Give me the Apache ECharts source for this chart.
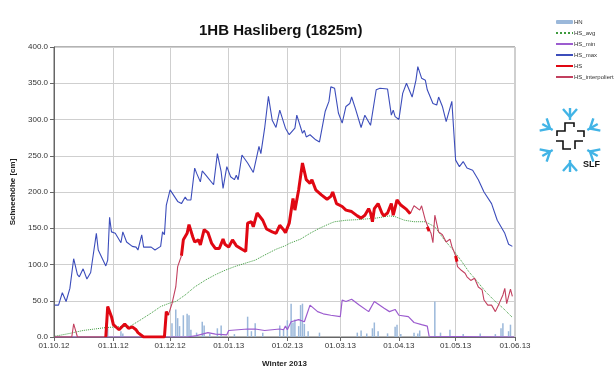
<!DOCTYPE html>
<html>
<head>
<meta charset="utf-8">
<script src="https://cdn.jsdelivr.net/npm/echarts@6/dist/echarts.min.js"></script>
<style>
  html, body { margin: 0; padding: 0; background: #fff; }
  #chart { width: 616px; height: 376px; }
</style>
</head>
<body>
<div id="chart"></div>
<script>
// day offsets from 01.10.2012, values in cm
const seriesNames = ["HN", "HS_avg", "HS_min", "HS_max", "HS", "HS_interpoliert"];
const yTicks = [0, 50, 100, 150, 200, 250, 300, 350, 400];

const hn = [[27,19],[28,12],[35,8],[36,5],[62,19],[64,38],[65,26],[66,15],[68,30],[70,32],[71,30],[72,10],
  [75,6],[78,21],[79,16],[82,5],[86,12],[88,16],[95,4],[102,28],[104,8],[106,19],[110,6],[119,16],[121,10],
  [123,23],[125,46],[126,20],[127,24],[129,15],[130,44],[131,46],[132,18],[134,8],[140,6],[160,6],[162,9],
  [165,5],[168,12],[169,20],[171,8],[176,5],[180,14],[181,17],[183,4],[190,6],[192,5],[193,9],[201,49],
  [204,6],[209,10],[216,4],[225,5],[233,4],[236,12],[237,19],[240,8],[241,17]];

const hsAvg = [[0,1],[8,5],[15,9],[21,11],[27,13],[33,14],[40,15],[45,23],[51,33],[56,42],[61,47],[64,49],
  [69,58],[74,69],[80,79],[85,86],[90,92],[95,97],[101,102],[106,106],[111,113],[117,121],[122,126],[124,129],
  [130,135],[135,143],[140,150],[146,157],[148,159],[154,161],[161,162],[170,164],[177,167],[180,166],
  [185,161],[190,159],[196,159],[201,152],[206,134],[211,119],[215,105],[219,90],[223,78],[228,62],
  [233,49],[237,40],[242,27]];

const hsMin = [[0,0],[70,0],[75,2],[81,6],[85,4],[91,3],[92,9],[102,11],[106,11],[111,9],[119,11],[121,10],
  [122,15],[123,10],[125,21],[129,24],[132,21],[135,44],[139,35],[142,32],[146,30],[151,28],[152,51],
  [154,49],[157,52],[161,44],[166,35],[169,49],[174,40],[177,35],[180,38],[182,30],[187,28],[190,20],
  [194,17],[197,15],[198,1],[199,0],[243,0]];

const hsMax = [[0,44],[2,44],[4,61],[6,49],[8,67],[10,108],[12,86],[13,83],[15,94],[17,80],[19,89],[20,89],
  [22,143],[23,120],[27,98],[28,106],[29,165],[30,145],[32,143],[35,130],[36,145],[38,131],[41,125],[43,124],
  [44,120],[46,141],[47,124],[51,124],[53,120],[56,125],[57,145],[58,141],[59,182],[61,203],[65,187],[67,184],
  [69,193],[70,189],[72,189],[74,233],[75,226],[77,214],[78,229],[80,223],[84,210],[86,253],[88,228],[89,205],
  [91,235],[93,221],[95,217],[96,223],[97,217],[99,251],[102,240],[105,227],[107,251],[108,263],[109,253],
  [111,288],[113,332],[115,299],[117,289],[119,313],[122,288],[124,279],[127,288],[128,306],[131,281],
  [132,285],[133,276],[135,279],[138,272],[140,269],[143,311],[145,325],[146,345],[148,343],[150,309],
  [152,295],[154,318],[156,322],[157,331],[159,315],[160,313],[162,289],[164,306],[167,292],[170,341],
  [172,343],[176,342],[178,306],[179,313],[180,304],[182,300],[184,336],[186,350],[189,331],[191,354],
  [192,373],[194,357],[196,354],[197,341],[200,322],[202,320],[203,331],[205,318],[207,297],[210,325],
  [211,327],[212,244],[214,235],[216,242],[218,233],[221,230],[224,217],[227,200],[231,184],[234,161],
  [238,143],[240,128],[242,125]];

const hs = [[27,0],[28,42],[30,28],[31,17],[34,10],[35,12],[37,18],[39,12],
  [41,14],[43,10],[44,6],[47,0],[58,0],[59,35],[60,30],[61,null],
  [67,112],[68,134],[69,135],[70,143],[71,155],[73,138],[74,131],[76,134],[77,127],[79,148],[81,144],
  [83,129],[85,122],[87,122],[89,135],[90,128],[92,124],[94,134],[96,126],[99,121],[101,118],[102,157],
  [104,159],[105,152],[107,171],[110,161],[112,149],[115,145],[117,143],[119,154],[121,148],[122,144],
  [124,157],[126,191],[127,175],[129,203],[131,240],[133,217],[135,212],[136,217],[138,203],[141,196],
  [144,190],[146,194],[147,200],[149,184],[152,180],[154,175],[157,173],[160,167],[162,164],[164,168],
  [166,177],[167,171],[168,159],[169,177],[171,184],[173,171],[174,167],[176,171],[178,184],[179,168],
  [181,189],[183,182],[186,176],[188,170],[189,null],
  [197,152],[198,146],[198.5,null],[212,112],[212.7,104]];

const hsInterp = [[0,0],[9,0],[10,18],[12,0],[27,0],[28,42],[30,28],[31,17],[34,10],[37,18],[39,12],
  [41,14],[44,6],[47,0],[58,0],[59,35],[60,30],[62,46],[64,69],[65,97],[67,112],[68,null],
  [188,170],[190,181],[193,175],[194,181],[196,161],[198,148],[199,143],[200,130],[201,168],[203,145],
  [205,141],[207,131],[209,135],[210,125],[212,112],[213,97],[215,92],[217,88],[218,83],[220,78],[222,81],
  [224,69],[226,65],[227,51],[229,44],[231,44],[233,35],[235,46],[237,58],[238,67],[239,46],[241,66],
  [242,56]];

const DAY = 86400000;
const T0 = Date.UTC(2012, 9, 1);
const T1 = Date.UTC(2013, 5, 1);
const toTime = arr => arr.map(p => [T0 + p[0] * DAY, p[1]]);
const FONT = "Liberation Sans, Arial, sans-serif";
const pad2 = n => (n < 10 ? "0" : "") + n;
const dateLabel = v => {
  const d = new Date(Math.round(v / DAY) * DAY);
  return pad2(d.getUTCDate()) + "." + pad2(d.getUTCMonth() + 1) + "." + pad2(d.getUTCFullYear() % 100);
};

const lineSeries = (name, data, color, width, type, z) => ({
  name: name,
  type: "line",
  data: toTime(data),
  showSymbol: false,
  symbol: "none",
  connectNulls: false,
  z: z,
  lineStyle: { color: color, width: width, type: type || "solid" },
  itemStyle: { color: color },
  animation: false
});

// SLF logo
const logo = [];
const cx = 570, cy = 140;
[90, 30, -30, -90, -150, 150].forEach(a => {
  const r = a * Math.PI / 180;
  const ux = Math.cos(r), uy = -Math.sin(r);
  const px = -uy, py = ux;
  const p = (d, s) => [cx + ux * d + px * s, cy + uy * d + py * s];
  logo.push({ type: "polyline", shape: { points: [p(20, 0), p(32, 0)] },
    style: { stroke: "#42b4e6", lineWidth: 2.4, fill: null } });
  logo.push({ type: "polyline", shape: { points: [p(31, -7), p(23, 0), p(31, 7)] },
    style: { stroke: "#42b4e6", lineWidth: 2.4, fill: null } });
});
[
  [[557, 136], [557, 131], [565, 131], [565, 123], [574, 123], [574, 127]],
  [[577, 131], [584, 131], [584, 137]],
  [[556, 141], [563, 141], [563, 149], [571, 149]],
  [[575, 149], [575, 141], [583, 141]]
].forEach(pts => logo.push({ type: "polyline", shape: { points: pts },
  style: { stroke: "#111", lineWidth: 1.6, fill: null } }));
logo.push({ type: "text", left: 583, top: 160,
  style: { text: "SLF", fill: "#111", font: "bold 9px " + FONT } });

const option = {
  animation: false,
  useUTC: true,
  backgroundColor: "#fff",
  textStyle: { fontFamily: FONT },
  title: {
    text: "1HB Hasliberg (1825m)",
    left: 194,
    top: 18,
    textStyle: { fontSize: 15, fontWeight: "bold", color: "#111", fontFamily: FONT }
  },
  legend: {
    orient: "vertical",
    left: 550,
    top: 13,
    itemWidth: 17,
    itemHeight: 4,
    itemGap: 3,
    data: seriesNames.map(n => n === "HN" ? { name: n } : { name: n, itemStyle: { opacity: 0 } }),
    textStyle: { fontSize: 6, color: "#333", lineHeight: 8, fontFamily: FONT, padding: [0, 0, 0, -4] }
  },
  grid: { left: 54, right: 101, top: 47, bottom: 39, show: true, borderColor: "#666", borderWidth: 1 },
  xAxis: {
    type: "time",
    min: T0,
    max: T1,
    splitNumber: 8,
    minInterval: 28 * DAY,
    maxInterval: 31 * DAY,
    name: "Winter 2013",
    nameLocation: "middle",
    nameGap: 23,
    nameTextStyle: { fontSize: 8, fontWeight: "bold", color: "#222" },
    axisLine: { lineStyle: { color: "#666" } },
    axisTick: { show: true, inside: false, length: 4, lineStyle: { color: "#666" } },
    axisLabel: { formatter: dateLabel, fontSize: 8, color: "#333", margin: 5, hideOverlap: false,
      showMinLabel: true, showMaxLabel: true },
    splitLine: { show: true, lineStyle: { color: "#cfcfcf", width: 1 } },
    minorTick: { show: false }
  },
  yAxis: {
    type: "value",
    min: yTicks[0],
    max: yTicks[yTicks.length - 1],
    interval: 50,
    name: "Schneehöhe [cm]",
    nameLocation: "middle",
    nameGap: 32,
    nameTextStyle: { fontSize: 8, fontWeight: "bold", color: "#222" },
    axisLine: { show: true, lineStyle: { color: "#666" } },
    axisTick: { show: true, length: 4, lineStyle: { color: "#666" } },
    axisLabel: { formatter: v => v.toFixed(1), fontSize: 8, color: "#333", margin: 6 },
    splitLine: { show: true, lineStyle: { color: "#cfcfcf", width: 1 } }
  },
  series: [
    {
      name: "HN",
      type: "bar",
      data: toTime(hn),
      barWidth: 1.5,
      z: 1,
      itemStyle: { color: "#9bb8da" },
      animation: false
    },
    lineSeries("HS_avg", hsAvg, "#3d9a3d", 1, "dotted", 2),
    lineSeries("HS_min", hsMin, "#9c5ccf", 1.2, "solid", 3),
    lineSeries("HS_max", hsMax, "#3c4dbb", 1.1, "solid", 4),
    lineSeries("HS_interpoliert", hsInterp, "#c2405f", 1.1, "solid", 5),
    lineSeries("HS", hs, "#e00712", 3, "solid", 6)
  ],
  graphic: logo
};

const chart = echarts.init(document.getElementById("chart"));
chart.setOption(option);
</script>
</body>
</html>
